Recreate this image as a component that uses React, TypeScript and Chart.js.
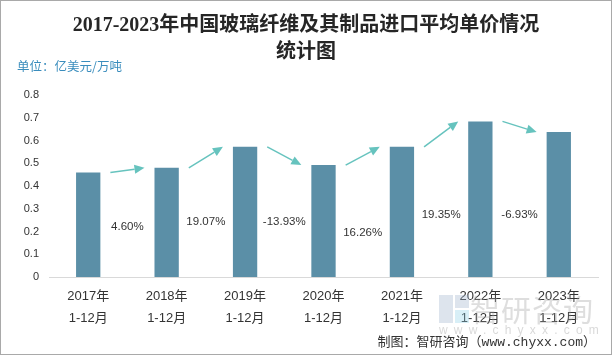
import React, { useEffect, useRef } from "react";
import { Chart, registerables } from "chart.js";

Chart.register(...registerables);

const categories = [
  ["2017年", "1-12月"],
  ["2018年", "1-12月"],
  ["2019年", "1-12月"],
  ["2020年", "1-12月"],
  ["2021年", "1-12月"],
  ["2022年", "1-12月"],
  ["2023年", "1-12月"],
];
const unitPrice = [0.459, 0.48, 0.572, 0.492, 0.572, 0.684, 0.637];
const growthLabels = ["4.60%", "19.07%", "-13.93%", "16.26%", "19.35%", "-6.93%"];
const growthLabelLevels = [0.22, 0.241, 0.241, 0.196, 0.273, 0.273];

const BAR_COLOR = "#5b8fa7";
const ARROW_COLOR = "#66c3be";

const arrowPlugin = {
  id: "growthArrows",
  afterDatasetsDraw(chart: any) {
    const { ctx, scales } = chart;
    const xs = scales.x;
    const ys = scales.y;
    const meta = chart.getDatasetMeta(0);
    ctx.save();
    for (let i = 0; i < unitPrice.length - 1; i++) {
      const b0 = meta.data[i];
      const b1 = meta.data[i + 1];
      const x0 = b0.x + b0.width / 2 + 10;
      const y0 = ys.getPixelForValue(unitPrice[i]);
      const x1 = b1.x - b1.width / 2 - 10;
      const y1 = ys.getPixelForValue(unitPrice[i + 1]);
      const ang = Math.atan2(y1 - y0, x1 - x0);
      const headLen = 10;
      const headW = 4.5;
      const bx = x1 - headLen * Math.cos(ang);
      const by = y1 - headLen * Math.sin(ang);
      ctx.strokeStyle = ARROW_COLOR;
      ctx.fillStyle = ARROW_COLOR;
      ctx.lineWidth = 1.5;
      ctx.beginPath();
      ctx.moveTo(x0, y0);
      ctx.lineTo(bx, by);
      ctx.stroke();
      ctx.beginPath();
      ctx.moveTo(x1, y1);
      ctx.lineTo(bx + headW * Math.sin(ang), by - headW * Math.cos(ang));
      ctx.lineTo(bx - headW * Math.sin(ang), by + headW * Math.cos(ang));
      ctx.closePath();
      ctx.fill();

      const lx = xs.getPixelForValue(i + 0.5);
      const ly = ys.getPixelForValue(growthLabelLevels[i]);
      ctx.fillStyle = "#333333";
      ctx.font = "11.5px 'Liberation Sans', Arial, sans-serif";
      ctx.textAlign = "center";
      ctx.textBaseline = "middle";
      ctx.fillText(growthLabels[i], lx, ly);
    }
    ctx.restore();
  },
};

export default function App() {
  const ref = useRef<HTMLCanvasElement | null>(null);

  useEffect(() => {
    document.body.style.margin = "0";
    const canvas = ref.current;
    if (!canvas) return;
    const chart = new Chart(canvas, {
      type: "bar",
      data: {
        labels: categories,
        datasets: [
          {
            data: unitPrice,
            backgroundColor: BAR_COLOR,
            borderWidth: 0,
            barPercentage: 0.31,
            categoryPercentage: 1,
          },
        ],
      },
      options: {
        animation: false,
        responsive: false,
        maintainAspectRatio: false,
        layout: { padding: { top: 95, right: 14, left: 0, bottom: 0 } },
        plugins: {
          legend: { display: false },
          title: { display: false },
          tooltip: { enabled: false },
        },
        scales: {
          x: {
            grid: { display: false, drawTicks: false },
            border: { display: true, color: "#d9d9d9", width: 1 },
            ticks: {
              color: "#333333",
              font: { size: 13, family: "'Liberation Sans', 'Noto Sans CJK SC', sans-serif", lineHeight: 1.65 },
              padding: 9,
              maxRotation: 0,
              autoSkip: false,
            },
            afterFit(scale: any) {
              scale.height = 78;
            },
          },
          y: {
            min: 0,
            max: 0.8,
            grid: { display: false, drawTicks: false },
            border: { display: false },
            ticks: {
              stepSize: 0.1,
              color: "#333333",
              font: { size: 11, family: "'Liberation Sans', Arial, sans-serif" },
              padding: 10,
              callback: (v: any) => (Number(v) === 0 ? "0" : Number(v).toFixed(1)),
            },
            afterFit(scale: any) {
              scale.width = 49;
            },
          },
        },
      },
      plugins: [arrowPlugin],
    });
    return () => chart.destroy();
  }, []);

  return (
    <div
      style={{
        position: "absolute",
        left: 0,
        top: 0,
        width: 612,
        height: 355,
        boxSizing: "border-box",
        border: "1px solid #a9a9a9",
        background: "#ffffff",
        overflow: "hidden",
        fontFamily: "'Noto Sans CJK SC', sans-serif",
      }}
    >
      <canvas ref={ref} width={612} height={355} style={{ position: "absolute", left: -1, top: -1 }} />
      <div
        style={{
          position: "absolute",
          left: 0,
          top: 10,
          width: 610,
          textAlign: "center",
          fontFamily: "'Liberation Serif', 'Noto Sans CJK SC', serif",
          fontWeight: "bold",
          fontSize: 20,
          lineHeight: "27px",
          color: "#262626",
        }}
      >
        2017-2023年中国玻璃纤维及其制品进口平均单价情况
        <br />
        统计图
      </div>
      <div
        style={{
          position: "absolute",
          left: 16,
          top: 56,
          fontSize: 12.5,
          color: "#3a8dbd",
          lineHeight: "18px",
          whiteSpace: "nowrap",
        }}
      >
        单位：亿美元/万吨
      </div>
      {/* watermark */}
      <div style={{ position: "absolute", left: 438, top: 294, width: 30, height: 28, opacity: 0.35 }}>
        <div style={{ position: "absolute", left: 0, top: 0, width: 14, height: 28, background: "#9fb3cc" }} />
        <div style={{ position: "absolute", left: 16, top: 0, width: 14, height: 13, background: "#9fb3cc" }} />
        <div style={{ position: "absolute", left: 16, top: 15, width: 14, height: 13, background: "#8fd0e8" }} />
      </div>
      <div
        style={{
          position: "absolute",
          left: 469,
          top: 289,
          fontSize: 30,
          lineHeight: "36px",
          color: "rgba(160,160,160,0.35)",
          whiteSpace: "nowrap",
          letterSpacing: 1,
        }}
      >
        智研咨询
      </div>
      <div
        style={{
          position: "absolute",
          left: 438,
          top: 321,
          fontSize: 12,
          lineHeight: "16px",
          color: "rgba(160,160,160,0.4)",
          whiteSpace: "nowrap",
          letterSpacing: 6.2,
          fontFamily: "'Liberation Sans', sans-serif",
        }}
      >
        www.chyxx.com
      </div>
      <div
        style={{
          position: "absolute",
          right: 15,
          top: 333,
          fontSize: 13,
          lineHeight: "18px",
          color: "#333333",
          whiteSpace: "nowrap",
          fontFamily: "'Liberation Mono', 'Noto Sans CJK SC', monospace",
        }}
      >
        制图：智研咨询（www.chyxx.com）
      </div>
    </div>
  );
}
